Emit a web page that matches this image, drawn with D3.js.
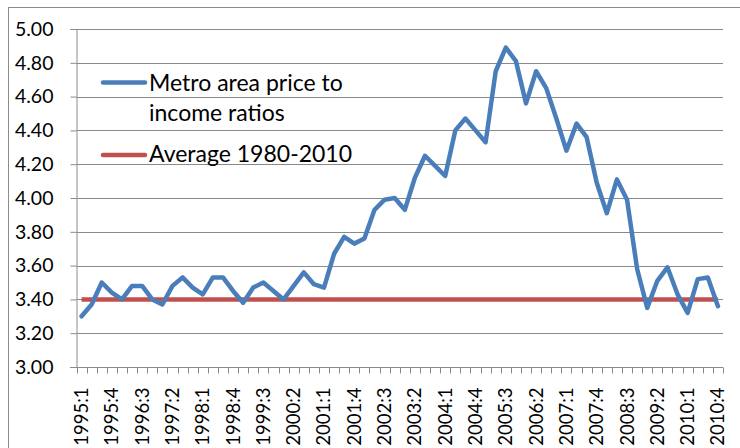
<!DOCTYPE html>
<html>
<head>
<meta charset="utf-8">
<script src="https://cdn.jsdelivr.net/npm/d3@7"></script>
<style>
  body { margin: 0; background: #fff; }
  svg { display: block; font-family: Lato, "Open Sans", sans-serif; }
</style>
</head>
<body>
<div id="chart"></div>
<script>
// quarters 1995:1 .. 2010:4
var years = d3.range(1995, 2011);
var quarters = [];
years.forEach(function(y) {
    [1, 2, 3, 4].forEach(function(q) { quarters.push(y + ":" + q); });
});

// metro area price to income ratio
var ratios = [
    3.30, 3.37, 3.50, 3.44, 3.40, 3.48, 3.48, 3.40,
    3.37, 3.48, 3.53, 3.47, 3.43, 3.53, 3.53, 3.45,
    3.38, 3.47, 3.50, 3.45, 3.40, 3.48, 3.56, 3.49,
    3.47, 3.67, 3.77, 3.73, 3.76, 3.93, 3.99, 4.00,
    3.93, 4.12, 4.25, 4.19, 4.13, 4.40, 4.47, 4.40,
    4.33, 4.75, 4.89, 4.81, 4.56, 4.75, 4.65, 4.47,
    4.28, 4.44, 4.36, 4.09, 3.91, 4.11, 3.99, 3.58,
    3.35, 3.51, 3.59, 3.43, 3.32, 3.52, 3.53, 3.36
];
var average = 3.40;

var yTicks = [3.0, 3.2, 3.4, 3.6, 3.8, 4.0, 4.2, 4.4, 4.6, 4.8, 5.0];
var xTickLabels = quarters.filter(function(d, i) { return i % 3 === 0; });

var seriesNames = ["Metro area price to income ratios", "Average 1980-2010"];

var w = 740, h = 448;
var svg = d3.select("#chart").append("svg").attr("width", w).attr("height", h);

var x = d3.scaleBand().domain(quarters).range([76.5, 723]).padding(0);
var y = d3.scaleLinear().domain([3, 5]).range([367, 29]);
var cx = function(q) { return x(q) + x.bandwidth() / 2; };

// outer frame
svg.append("rect")
    .attr("x", 8.5).attr("y", 7.5)
    .attr("width", 760).attr("height", 460)
    .attr("fill", "none").attr("stroke", "#8c8c8c").attr("stroke-width", 1);

// gridlines
svg.append("g").selectAll("line")
    .data(yTicks.slice(1))
    .enter().append("line")
    .attr("x1", 76.5).attr("x2", 723)
    .attr("y1", function(d) { return Math.round(y(d)) + 0.5; })
    .attr("y2", function(d) { return Math.round(y(d)) + 0.5; })
    .attr("stroke", "#8a8a8a").attr("stroke-width", 1);

// y axis
var yAxis = svg.append("g")
    .attr("transform", "translate(76.5,0)")
    .call(d3.axisLeft(y).tickValues(yTicks).tickSize(6).tickPadding(17)
        .tickFormat(d3.format(".2f")));
yAxis.selectAll("path, line").attr("stroke", "#8a8a8a");
yAxis.selectAll("text").attr("font-size", "19.5px").attr("fill", "#000")
    .attr("font-family", "Lato, sans-serif");

// x axis: ticks between categories
var xAxisG = svg.append("g").attr("transform", "translate(0," + (Math.round(y(3)) + 0.5) + ")");
xAxisG.append("line")
    .attr("x1", 70).attr("x2", 723).attr("stroke", "#8a8a8a");
xAxisG.selectAll("line.tick")
    .data(quarters.concat(["end"]))
    .enter().append("line")
    .attr("class", "tick")
    .attr("x1", function(d, i) { return Math.round(i < quarters.length ? x(d) : 723) + 0.5; })
    .attr("x2", function(d, i) { return Math.round(i < quarters.length ? x(d) : 723) + 0.5; })
    .attr("y1", 0).attr("y2", 6)
    .attr("stroke", "#8a8a8a");
xAxisG.selectAll("text")
    .data(xTickLabels)
    .enter().append("text")
    .attr("transform", function(d) { return "translate(" + (cx(d) + 6.5) + ",20) rotate(-90)"; })
    .attr("text-anchor", "end")
    .attr("font-size", "18.5px")
    .attr("fill", "#000")
    .text(function(d) { return d; });

// average line
svg.append("line")
    .attr("x1", cx(quarters[0])).attr("x2", cx(quarters[quarters.length - 1]))
    .attr("y1", y(average)).attr("y2", y(average))
    .attr("stroke", "#C0504D").attr("stroke-width", 4.5);

// price to income line
var line = d3.line()
    .x(function(d, i) { return cx(quarters[i]); })
    .y(function(d) { return y(d); });
svg.append("path")
    .datum(ratios)
    .attr("d", line)
    .attr("fill", "none")
    .attr("stroke", "#4A7EBB")
    .attr("stroke-width", 4.5)
    .attr("stroke-linejoin", "round")
    .attr("stroke-linecap", "round");

// legend
var legend = svg.append("g");
legend.append("line")
    .attr("x1", 103).attr("x2", 145).attr("y1", 82.5).attr("y2", 82.5)
    .attr("stroke", "#4A7EBB").attr("stroke-width", 4.5).attr("stroke-linecap", "round");
legend.append("text")
    .attr("x", 149).attr("y", 90.5)
    .attr("font-size", "23px").attr("fill", "#000")
    .text("Metro area price to");
legend.append("text")
    .attr("x", 149).attr("y", 121)
    .attr("font-size", "23px").attr("fill", "#000")
    .text("income ratios");
legend.append("line")
    .attr("x1", 103).attr("x2", 145).attr("y1", 155).attr("y2", 155)
    .attr("stroke", "#C0504D").attr("stroke-width", 4.5).attr("stroke-linecap", "round");
legend.append("text")
    .attr("x", 149).attr("y", 161.5)
    .attr("font-size", "23px").attr("fill", "#000")
    .text(seriesNames[1]);
</script>
</body>
</html>
